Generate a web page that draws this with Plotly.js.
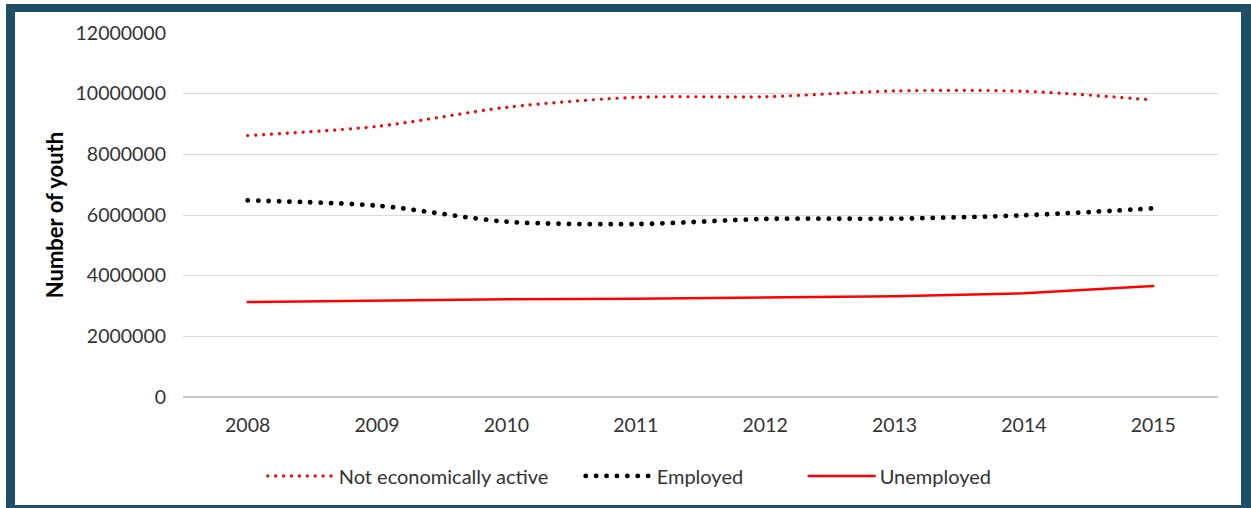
<!DOCTYPE html>
<html>
<head>
<meta charset="utf-8">
<script src="https://cdn.plot.ly/plotly-3.0.1.min.js"></script>
<style>
  html, body { margin: 0; padding: 0; background: #ffffff; }
  #frame { position: absolute; left: 6px; top: 4px; width: 1245px; height: 504px; background: #1f4e69; }
  #chart { position: absolute; left: 15px; top: 12px; width: 1226px; height: 493px; background: #ffffff; }
</style>
</head>
<body>
<div id="frame"></div>
<div id="chart"></div>
<script>
const years = ['2008', '2009', '2010', '2011', '2012', '2013', '2014', '2015'];
const notEconomicallyActive = [8620000, 8920000, 9550000, 9880000, 9900000, 10090000, 10080000, 9790000];
const employed = [6480000, 6310000, 5780000, 5700000, 5870000, 5880000, 5990000, 6220000];
const unemployed = [3130000, 3180000, 3220000, 3240000, 3280000, 3320000, 3420000, 3660000];
const yTicks = [0, 2000000, 4000000, 6000000, 8000000, 10000000, 12000000];

const FONT = 'Lato, "Open Sans", sans-serif';
const legendOffsets = [0, 318, 541];

const traces = [
  {
    x: years, y: notEconomicallyActive, name: 'Not economically active',
    type: 'scatter', mode: 'lines',
    line: { color: '#ff0000', width: 3.2, dash: '0.1px,7.8px', shape: 'spline', smoothing: 0.8 }
  },
  {
    x: years, y: employed, name: 'Employed',
    type: 'scatter', mode: 'lines',
    line: { color: '#000000', width: 4.8, dash: '0.1px,10.3px', shape: 'spline', smoothing: 0.8 }
  },
  {
    x: years, y: unemployed, name: 'Unemployed',
    type: 'scatter', mode: 'lines',
    line: { color: '#ff0000', width: 2.5 }
  }
];

const layout = {
  width: 1226, height: 493,
  margin: { l: 168, r: 23, t: 21, b: 108 },
  paper_bgcolor: '#ffffff', plot_bgcolor: '#ffffff',
  font: { family: FONT, size: 19.5, color: '#333333' },
  showlegend: true,
  legend: {
    orientation: 'h', xref: 'paper', x: 0.077, xanchor: 'left',
    yref: 'container', y: 0.059, yanchor: 'middle',
    font: { family: FONT, size: 20, color: '#333333' },
    itemwidth: 66, traceorder: 'normal', entrywidth: 140, entrywidthmode: 'pixels'
  },
  xaxis: {
    type: 'category', range: [-0.5, 7.5], showgrid: false, zeroline: false,
    showline: false, ticks: '', ticklabelstandoff: 14,
    tickfont: { family: FONT, size: 19.5, color: '#333333' }
  },
  yaxis: {
    range: [0, 12000000], tickvals: yTicks, ticktext: yTicks.map(String),
    showgrid: true, gridcolor: '#d9d9d9', gridwidth: 1,
    zeroline: true, zerolinecolor: '#c8c8c8', zerolinewidth: 1.5,
    showline: false, ticks: '', ticklabelstandoff: 16,
    tickfont: { family: FONT, size: 19.5, color: '#333333' },
    title: { text: 'Number of youth', standoff: 5, font: { family: FONT, size: 22, color: '#000000', weight: 'bold' } },
    automargin: false
  }
};

function finishStyle() {
  document.querySelectorAll('#chart .js-line, #chart .legendlines path').forEach(function (p) {
    p.style.strokeLinecap = 'round';
  });
  document.querySelectorAll('#chart .legend .scrollbox').forEach(function (s) {
    s.removeAttribute('clip-path');
  });
  const items = document.querySelectorAll('#chart .legend .traces');
  items.forEach(function (g, i) {
    const m = /translate\(([^,]+),\s*([^)]+)\)/.exec(g.getAttribute('transform') || '');
    const yv = m ? m[2] : '0';
    if (i < legendOffsets.length) g.setAttribute('transform', 'translate(' + legendOffsets[i] + ',' + yv + ')');
  });
}

Plotly.newPlot('chart', traces, layout, { displayModeBar: false, staticPlot: true }).then(function (gd) {
  finishStyle();
  gd.on('plotly_afterplot', finishStyle);
});
</script>
</body>
</html>
